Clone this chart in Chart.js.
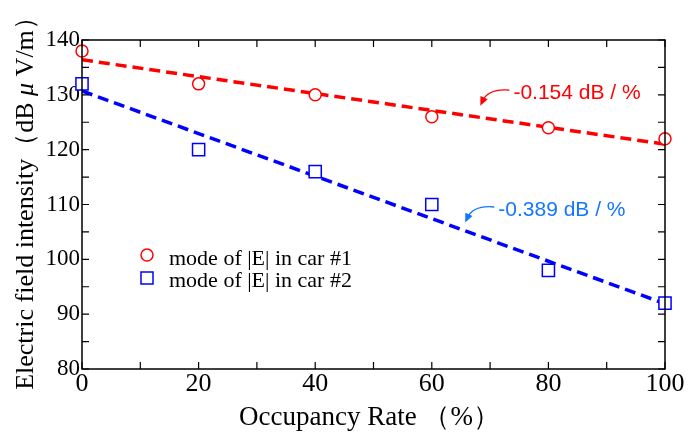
<!DOCTYPE html>
<html>
<head>
<meta charset="utf-8">
<script src="https://cdn.jsdelivr.net/npm/chart.js@4"></script>
<style>
    html, body { margin: 0; padding: 0; background: #fff; }
</style>
</head>
<body>
<canvas id="chart" width="689" height="432"></canvas>
<script>
// data
const occupancy = [0, 20, 40, 60, 80, 100];
const car1 = [138, 132, 130, 126, 124, 122];
const car2 = [132, 120, 116, 110, 98, 92];

// fitted lines (end points)
const fitX = [0, 100];
const fit1 = [136.4, 121.0];
const fit2 = [130.7, 91.9];

const xTicks = [0, 20, 40, 60, 80, 100];
const yTicks = [80, 90, 100, 110, 120, 130, 140];
const xMinor = [10, 30, 50, 70, 90];
const yMinor = [85, 95, 105, 115, 125, 135];

const seriesNames = ['mode of |E| in car #1', 'mode of |E| in car #2'];
const slopeLabels = ['-0.154 dB / %', '-0.389 dB / %'];
const slopeAnchors = [[74, 130.3], [71.4, 109.0]];

const RED = '#ff0000';
const BLUE = '#0000ff';
const SLOPE_BLUE = '#1577ff';
const SERIF = '"Liberation Serif", "Times New Roman", serif';

function points(xs, ys) {
    return xs.map((x, i) => ({x: x, y: ys[i]}));
}

function arrow(ctx, x0, y0, cx, cy, x1, y1, color) {
    ctx.save();
    ctx.strokeStyle = color;
    ctx.fillStyle = color;
    ctx.lineWidth = 1.3;
    ctx.beginPath();
    ctx.moveTo(x0, y0);
    ctx.quadraticCurveTo(cx, cy, x1, y1);
    ctx.stroke();
    let ang = Math.atan2(y1 - cy, x1 - cx);
    ctx.translate(x1, y1);
    ctx.rotate(ang);
    ctx.beginPath();
    ctx.moveTo(5, 0);
    ctx.lineTo(-4, -4);
    ctx.lineTo(-4, 4);
    ctx.closePath();
    ctx.fill();
    ctx.restore();
}

const decorations = {
    id: 'decorations',
    afterDraw(chart) {
        const {ctx, chartArea: a} = chart;
        const x = chart.scales.x;
        const y = chart.scales.y;
        ctx.save();

        // frame + inward ticks on all sides
        ctx.strokeStyle = '#000';
        ctx.lineWidth = 1.5;
        ctx.strokeRect(a.left, a.top, a.right - a.left, a.bottom - a.top);
        ctx.beginPath();
        xTicks.concat(xMinor).forEach(v => {
            let px = x.getPixelForValue(v);
            ctx.moveTo(px, a.bottom); ctx.lineTo(px, a.bottom - 7);
            ctx.moveTo(px, a.top); ctx.lineTo(px, a.top + 7);
        });
        yTicks.concat(yMinor).forEach(v => {
            let py = y.getPixelForValue(v);
            ctx.moveTo(a.left, py); ctx.lineTo(a.left + 7, py);
            ctx.moveTo(a.right, py); ctx.lineTo(a.right - 7, py);
        });
        ctx.lineWidth = 1.2;
        ctx.stroke();

        // axis titles
        ctx.fillStyle = '#000';
        ctx.font = '27px ' + SERIF;
        ctx.textAlign = 'center';
        ctx.textBaseline = 'alphabetic';
        ctx.fillText('Occupancy Rate （%）', (a.left + a.right) / 2 - 4, 425);

        const parts = [
            ['Electric field intensity（dB ', '26px ' + SERIF],
            ['μ', 'italic 26px ' + SERIF],
            [' V/m）', '26px ' + SERIF]
        ];
        let total = 0;
        parts.forEach(p => { ctx.font = p[1]; total += ctx.measureText(p[0]).width; });
        ctx.save();
        ctx.translate(33, 197);
        ctx.rotate(-Math.PI / 2);
        ctx.textAlign = 'left';
        let tx = -total / 2;
        parts.forEach(p => {
            ctx.font = p[1];
            ctx.fillText(p[0], tx, 0);
            tx += ctx.measureText(p[0]).width;
        });
        ctx.restore();

        // legend
        const lx = a.left + 65;
        ctx.lineWidth = 1.5;
        ctx.strokeStyle = RED;
        ctx.fillStyle = '#fff';
        ctx.beginPath();
        ctx.arc(lx, 255, 6, 0, Math.PI * 2);
        ctx.fill();
        ctx.stroke();
        ctx.strokeStyle = BLUE;
        ctx.fillRect(lx - 6, 272, 12, 12);
        ctx.strokeRect(lx - 6, 272, 12, 12);
        ctx.fillStyle = '#000';
        ctx.font = '22px ' + SERIF;
        ctx.textAlign = 'left';
        ctx.fillText(seriesNames[0], lx + 22, 265);
        ctx.fillText(seriesNames[1], lx + 22, 287);

        // slope annotations
        ctx.font = '21px "Liberation Sans", Arial, sans-serif';
        ctx.textBaseline = 'middle';
        const colors = [RED, SLOPE_BLUE];
        slopeAnchors.forEach((s, i) => {
            let px = x.getPixelForValue(s[0]);
            let py = y.getPixelForValue(s[1]);
            ctx.fillStyle = colors[i];
            ctx.fillText(slopeLabels[i], px, py);
            arrow(ctx, px - 4, py - 3, px - 25, py - 5, px - 31, py + 8, colors[i]);
        });

        ctx.restore();
    }
};

new Chart(document.getElementById('chart'), {
    type: 'scatter',
    data: {
        datasets: [
            {
                label: seriesNames[0],
                data: points(occupancy, car1),
                pointStyle: 'circle',
                pointRadius: 6,
                pointBorderWidth: 1.5,
                borderColor: RED,
                backgroundColor: '#fff',
                clip: false
            },
            {
                label: seriesNames[1],
                data: points(occupancy, car2),
                pointStyle: 'rect',
                pointRadius: 8.6,
                pointBorderWidth: 1.5,
                borderColor: BLUE,
                backgroundColor: '#fff',
                clip: false
            },
            {
                label: 'fit car #1',
                data: points(fitX, fit1),
                showLine: true,
                borderColor: RED,
                borderWidth: 3.5,
                borderDash: [11, 6],
                pointRadius: 0
            },
            {
                label: 'fit car #2',
                data: points(fitX, fit2),
                showLine: true,
                borderColor: BLUE,
                borderWidth: 3.5,
                borderDash: [11, 6],
                pointRadius: 0
            }
        ]
    },
    options: {
        responsive: false,
        animation: false,
        devicePixelRatio: 1,
        layout: {padding: {left: 0, top: 40, right: 24, bottom: 0}},
        plugins: {
            legend: {display: false},
            tooltip: {enabled: false}
        },
        scales: {
            x: {
                type: 'linear',
                min: 0,
                max: 100,
                afterBuildTicks: s => { s.ticks = xTicks.map(v => ({value: v})); },
                afterFit: s => { s.height = 63; },
                grid: {display: false, drawTicks: false},
                border: {display: false},
                ticks: {
                    color: '#000',
                    padding: 0,
                    maxRotation: 0,
                    font: {family: SERIF, size: 26}
                }
            },
            y: {
                type: 'linear',
                min: 80,
                max: 140,
                afterBuildTicks: s => { s.ticks = yTicks.map(v => ({value: v})); },
                afterFit: s => { s.width = 82; },
                grid: {display: false, drawTicks: false},
                border: {display: false},
                ticks: {
                    color: '#000',
                    padding: 2,
                    font: {family: SERIF, size: 23}
                }
            }
        }
    },
    plugins: [decorations]
});
</script>
</body>
</html>
